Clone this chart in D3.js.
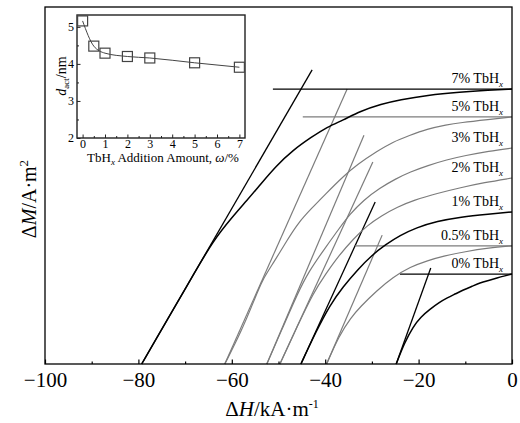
<!DOCTYPE html>
<html>
<head>
<meta charset="utf-8">
<script src="https://cdn.jsdelivr.net/npm/d3@7"></script>
<style>
body { margin: 0; background: #fff; }
text { font-family: "Liberation Serif", "Times New Roman", serif; fill: #000; }
</style>
</head>
<body>
<div id="chart"></div>
<script>
// ---- data ----
const sampleNames = ["0%", "0.5%", "1%", "2%", "3%", "5%", "7%"];

// demagnetisation curves, [ΔH (kA/m), ΔM (arb.)]
const curve0 = [[-24.8,0],[-23,6],[-21.2,10.4],[-19.5,13.2],[-17.6,15.3],[-15.5,17.3],[-13.9,18.5],[-12,19.7],[-10.5,20.7],[-8.5,21.8],[-6.9,22.7],[-5,23.4],[-3.2,24.1],[-1.5,24.7],[0,25.2]];
const curve05 = [[-39.7,0],[-37,8],[-34.5,13],[-32.5,16],[-29,20.5],[-25.5,24.3],[-21.8,27.2],[-18,29],[-14.8,30.2],[-10,31.5],[-5,32.5],[0,33.1]];
const curve1 = [[-45.2,0],[-42,9],[-39,16.5],[-36.2,21.6],[-33,26.5],[-30,30.5],[-27,33.5],[-24,36],[-20.5,38.2],[-16,40],[-11,41.2],[-5,42],[0,42.6]];
const curve2 = [[-49.7,0],[-46,10.5],[-42.5,20],[-40,25],[-37,30.5],[-34,35],[-31,38.8],[-28,41.5],[-24.5,44],[-21,45.9],[-16,47.8],[-11,49.4],[-6,50.8],[0,52.1]];
const curve3 = [[-52.5,0],[-49,10.5],[-46,19.5],[-43.5,26],[-40,32.5],[-37,38],[-34.7,42],[-31.8,45.9],[-28.3,49.3],[-25,51.8],[-21.8,53.8],[-18,55.6],[-14,57.2],[-10,58.4],[-5,59.6],[0,60.5]];
const curve5 = [[-61.5,0],[-58,9],[-55,18.5],[-53.5,23.5],[-51,28.5],[-48,35],[-45.8,39.5],[-43,43.5],[-40,47.5],[-36.2,52.5],[-33,56],[-29,59.5],[-25.5,62.2],[-22,64],[-18.2,65.8],[-14,67],[-11.1,67.6],[-5,68.5],[0,69.2]];
const curve7 = [[-79.3,0],[-76,7.5],[-72,16.5],[-68,25.5],[-64,34.5],[-60,41],[-56.7,45.9],[-54,50.1],[-50.5,55.5],[-46.9,59.9],[-43,63.5],[-39.6,66.4],[-36.2,68.3],[-32.5,70.8],[-28,72.8],[-24,74],[-18.2,75.3],[-11.1,76.2],[-5,76.7],[0,77.0]];
const curves = [curve0, curve05, curve1, curve2, curve3, curve5, curve7];

// upper end of the tangent drawn from each curve's intercept
const tangentTops = [[-17.4,26.9],[-27.8,36.1],[-29.3,45.4],[-29.8,56.6],[-31.7,64.1],[-35.3,77.0],[-42.8,82.4]];

// horizontal remanence lines (start ΔH), end at ΔH = 0
const refSamples = ["0%", "0.5%", "5%", "7%"];
const refStarts = [-24.0, -33.6, -44.8, -51.2];

const mainXTicks = [-100, -80, -60, -40, -20, 0];
const mainXMinor = [-90, -70, -50, -30, -10];

// inset
const omega = [0, 0.5, 1, 2, 3, 5, 7];
const dact = [5.16, 4.48, 4.29, 4.20, 4.16, 4.03, 3.91];
const insetXTicks = [0, 1, 2, 3, 4, 5, 6, 7];
const insetXMinor = [0.5, 1.5, 2.5, 3.5, 4.5, 5.5, 6.5];
const insetYTicks = [2, 3, 4, 5];
const insetYMinor = [2.5, 3.5, 4.5];

// ---- styling ----
const darkSamples = ["0%", "1%", "7%"];
const strokeOf = name => darkSamples.includes(name) ? "#000" : "#7c7c7c";

const margin = {top: 7, right: 8, bottom: 59, left: 45};
const width = 520 - margin.left - margin.right;
const height = 423 - margin.top - margin.bottom;

const root = d3.select("#chart")
    .append("svg")
    .attr("width", 520)
    .attr("height", 423);

const svg = root.append("g")
    .attr("transform", `translate(${margin.left},${margin.top})`);

const x = d3.scaleLinear().domain([-100, 0]).range([0, width]);
const y = d3.scaleLinear().domain([0, 100]).range([height, 0]);

const line = d3.line()
    .x(d => x(d[0]))
    .y(d => y(d[1]))
    .curve(d3.curveBasis);

// tangents
svg.selectAll("line.tangent")
    .data(sampleNames)
    .enter()
    .append("line")
    .attr("class", "tangent")
    .attr("x1", (d, i) => x(curves[i][0][0]))
    .attr("y1", (d, i) => y(curves[i][0][1]))
    .attr("x2", (d, i) => x(tangentTops[i][0]))
    .attr("y2", (d, i) => y(tangentTops[i][1]))
    .attr("stroke", d => strokeOf(d))
    .attr("stroke-width", d => darkSamples.includes(d) ? 1.3 : 1.2);

// horizontal remanence lines
svg.selectAll("line.ref")
    .data(refSamples)
    .enter()
    .append("line")
    .attr("class", "ref")
    .attr("x1", (d, i) => x(refStarts[i]))
    .attr("x2", x(0))
    .attr("y1", d => y(curves[sampleNames.indexOf(d)].at(-1)[1]))
    .attr("y2", d => y(curves[sampleNames.indexOf(d)].at(-1)[1]))
    .attr("stroke", d => strokeOf(d))
    .attr("stroke-width", 1.3);

// curves
svg.selectAll("path.curve")
    .data(sampleNames)
    .enter()
    .append("path")
    .attr("class", "curve")
    .attr("fill", "none")
    .attr("stroke", d => strokeOf(d))
    .attr("stroke-width", d => darkSamples.includes(d) ? 1.5 : 1.2)
    .attr("d", (d, i) => line(curves[i]));

// curve labels
const lab = svg.selectAll("text.lab")
    .data(sampleNames)
    .enter()
    .append("text")
    .attr("class", "lab")
    .attr("x", x(0) - 9)
    .attr("y", (d, i) => y(curves[i].at(-1)[1]) - 6)
    .attr("text-anchor", "end")
    .style("font-size", "14px");
lab.append("tspan").text(d => d + " TbH");
lab.append("tspan")
    .attr("dy", 4)
    .style("font-size", "9px")
    .style("font-style", "italic")
    .text("x");

// frame
svg.append("rect")
    .attr("width", width)
    .attr("height", height)
    .attr("fill", "none")
    .attr("stroke", "#000")
    .attr("stroke-width", 1.3);

// x axis
const xAxis = svg.append("g")
    .attr("transform", `translate(0,${height})`)
    .call(d3.axisBottom(x).tickValues(mainXTicks).tickSize(-4.5).tickPadding(8));
svg.append("g")
    .attr("transform", `translate(0,${height})`)
    .call(d3.axisBottom(x).tickValues(mainXMinor).tickSize(-2.5).tickFormat(""));
svg.selectAll(".domain").remove();
svg.selectAll(".tick line").attr("stroke", "#000").attr("stroke-width", 1.2);
xAxis.selectAll("text")
    .style("font-family", "Liberation Serif")
    .style("font-size", "21px");

// x title
const xt = root.append("text")
    .attr("x", 272)
    .attr("y", 416)
    .attr("text-anchor", "middle")
    .style("font-size", "21px");
xt.append("tspan").text("Δ");
xt.append("tspan").style("font-style", "italic").text("H");
xt.append("tspan").text("/kA·m");
xt.append("tspan").attr("dy", -8).style("font-size", "12px").text("-1");

// y title
const yt = root.append("text")
    .attr("transform", "translate(36,199) rotate(-90)")
    .attr("text-anchor", "middle")
    .style("font-size", "20px");
yt.append("tspan").text("Δ");
yt.append("tspan").style("font-style", "italic").text("M");
yt.append("tspan").text("/A·m");
yt.append("tspan").attr("dy", -8).style("font-size", "13px").text("2");

// ---- inset ----
const inset = {left: 77, top: 15, width: 168, height: 123};
const ig = root.append("g")
    .attr("transform", `translate(${inset.left},${inset.top})`);

const ix = d3.scaleLinear().domain([-0.25, 7.25]).range([0, inset.width]);
const iy = d3.scaleLinear().domain([2, 5.32]).range([inset.height, 0]);

ig.append("rect")
    .attr("width", inset.width)
    .attr("height", inset.height)
    .attr("fill", "#fff")
    .attr("stroke", "#222")
    .attr("stroke-width", 1.4);

const ixAxis = ig.append("g")
    .attr("transform", `translate(0,${inset.height})`)
    .call(d3.axisBottom(ix).tickValues(insetXTicks).tickSize(-3.5).tickPadding(1).tickFormat(d3.format("d")));
ig.append("g")
    .attr("transform", `translate(0,${inset.height})`)
    .call(d3.axisBottom(ix).tickValues(insetXMinor).tickSize(-2).tickFormat(""));
const iyAxis = ig.append("g")
    .call(d3.axisLeft(iy).tickValues(insetYTicks).tickSize(-3.5).tickPadding(3).tickFormat(d3.format("d")));
ig.append("g")
    .call(d3.axisLeft(iy).tickValues(insetYMinor).tickSize(-2).tickFormat(""));
ig.selectAll(".domain").remove();
ig.selectAll(".tick line").attr("stroke", "#222");
ig.selectAll(".tick text")
    .style("font-family", "Liberation Serif")
    .style("font-size", "12px")
    .attr("fill", "#000");

ig.append("path")
    .datum(omega.map((w, i) => [w, dact[i]]))
    .attr("fill", "none")
    .attr("stroke", "#444")
    .attr("stroke-width", 1)
    .attr("d", d3.line().x(d => ix(d[0])).y(d => iy(d[1])).curve(d3.curveMonotoneX));

ig.selectAll("rect.pt")
    .data(omega)
    .enter()
    .append("rect")
    .attr("class", "pt")
    .attr("x", d => ix(d) - 5)
    .attr("y", (d, i) => iy(dact[i]) - 5)
    .attr("width", 10)
    .attr("height", 10)
    .attr("fill", "none")
    .attr("stroke", "#444")
    .attr("stroke-width", 1.2);

const ixt = root.append("text")
    .attr("x", 163)
    .attr("y", 162)
    .attr("text-anchor", "middle")
    .style("font-size", "13px");
ixt.append("tspan").text("TbH");
ixt.append("tspan").attr("dy", 3).style("font-size", "9px").style("font-style", "italic").text("x");
ixt.append("tspan").attr("dy", -3).text(" Addition Amount, ");
ixt.append("tspan").style("font-style", "italic").text("ω");
ixt.append("tspan").text("/%");

const iyt = root.append("text")
    .attr("transform", "translate(66,76) rotate(-90)")
    .attr("text-anchor", "middle")
    .style("font-size", "14px");
iyt.append("tspan").style("font-style", "italic").text("d");
iyt.append("tspan").attr("dy", 3).style("font-size", "9px").text("act");
iyt.append("tspan").attr("dy", -3).text("/nm");
</script>
</body>
</html>
